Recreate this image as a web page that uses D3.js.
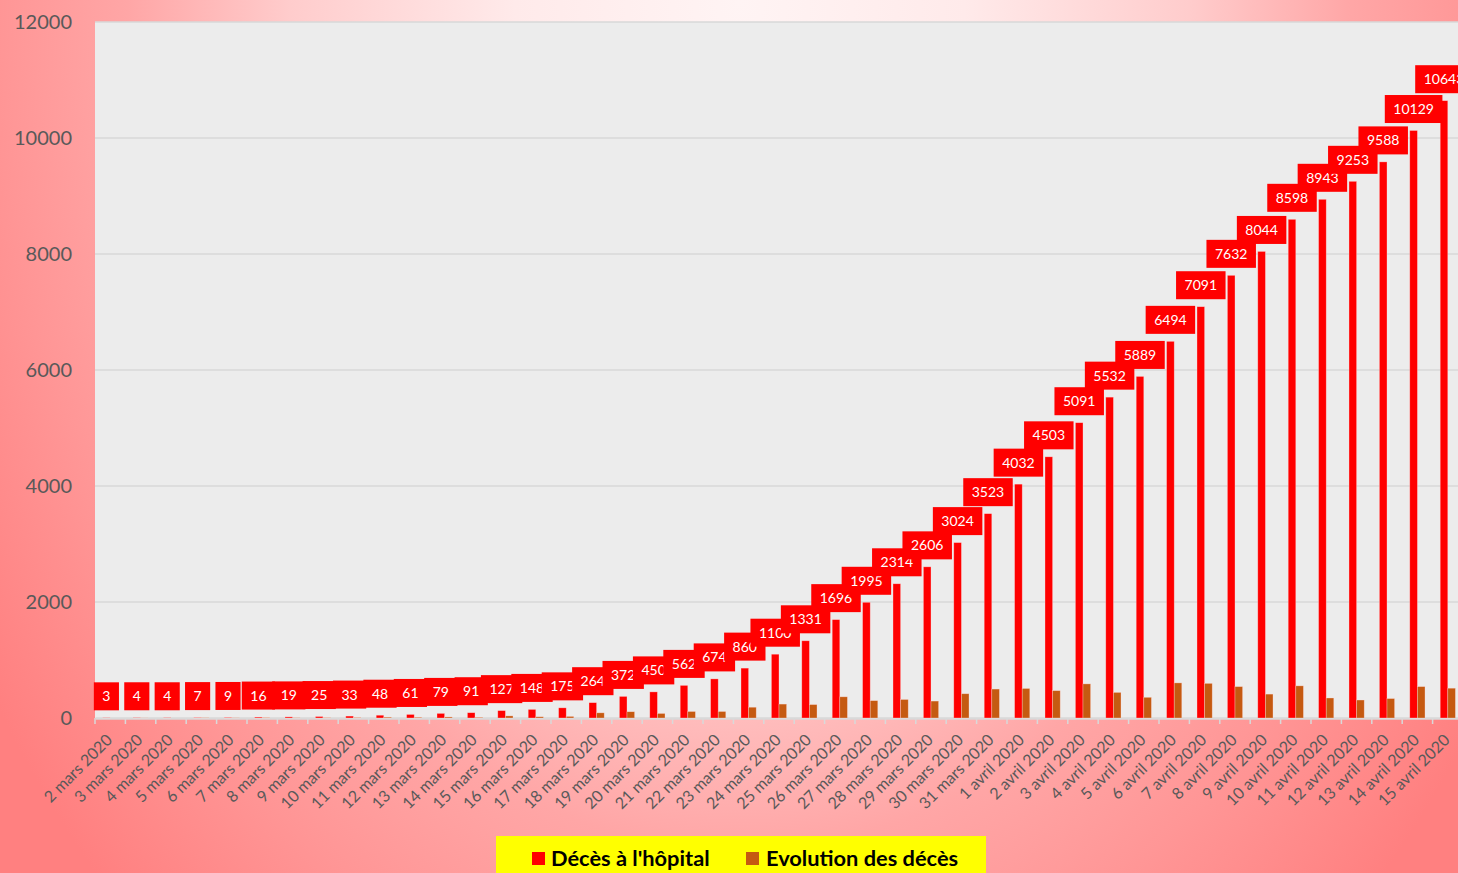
<!DOCTYPE html>
<html><head><meta charset="utf-8">
<script src="https://cdn.jsdelivr.net/npm/d3@7/dist/d3.min.js"></script>
<style>html,body{margin:0;padding:0;overflow:hidden;background:#fff;} svg{display:block;}</style>
</head><body>
<svg id="c" width="1458" height="873"></svg>
<script>
const categories = [
  "2 mars 2020","3 mars 2020","4 mars 2020","5 mars 2020","6 mars 2020","7 mars 2020","8 mars 2020",
  "9 mars 2020","10 mars 2020","11 mars 2020","12 mars 2020","13 mars 2020","14 mars 2020","15 mars 2020",
  "16 mars 2020","17 mars 2020","18 mars 2020","19 mars 2020","20 mars 2020","21 mars 2020","22 mars 2020",
  "23 mars 2020","24 mars 2020","25 mars 2020","26 mars 2020","27 mars 2020","28 mars 2020","29 mars 2020",
  "30 mars 2020","31 mars 2020","1 avril 2020","2 avril 2020","3 avril 2020","4 avril 2020","5 avril 2020",
  "6 avril 2020","7 avril 2020","8 avril 2020","9 avril 2020","10 avril 2020","11 avril 2020","12 avril 2020",
  "13 avril 2020","14 avril 2020","15 avril 2020"
];
const decesHopital = [
  3,4,4,7,9,16,19,25,33,48,61,79,91,127,148,175,264,372,450,562,674,860,1100,1331,1696,
  1995,2314,2606,3024,3523,4032,4503,5091,5532,5889,6494,7091,7632,8044,8598,8943,9253,9588,10129,10643
];
const evolutionDeces = [
  0,1,0,3,2,7,3,6,8,15,13,18,12,36,21,27,89,108,78,112,112,186,240,231,365,
  299,319,292,418,499,509,471,588,441,357,605,597,541,412,554,345,310,335,541,514
];
const yTicks = [0,2000,4000,6000,8000,10000,12000];
const seriesNames = ["Décès à l'hôpital","Evolution des décès"];
const seriesColors = ["#ff0000","#c55a11"];

const W = 1458, H = 873;
const plot = {left: 95, right: 1463, top: 22, bottom: 718};
const FONT = "Lato, 'Open Sans', 'Noto Sans', sans-serif";

const svg = d3.select("#c");
const defs = svg.append("defs");
const grad = defs.append("radialGradient").attr("id","bg")
  .attr("gradientUnits","userSpaceOnUse")
  .attr("cx",740).attr("cy",0).attr("r",900).attr("fx",740).attr("fy",0)
  .attr("gradientTransform","translate(740,0) scale(1,1.39) translate(-740,0)");
[[0,"#fff4f4"],[0.25,"#ffeaea"],[0.5,"#ffcccc"],[0.68,"#ffa6a6"],[0.82,"#ff9696"],[1.08,"#ff8080"]]
  .forEach(([o,c]) => grad.append("stop").attr("offset",o).attr("stop-color",c));

svg.append("rect").attr("width",W).attr("height",H).attr("fill","url(#bg)");

const x = d3.scaleBand().domain(categories).range([plot.left, plot.right])
  .paddingInner(0.5).paddingOuter(0.25);
const xs = d3.scaleBand().domain([0,1]).range([0, x.bandwidth()]);
const y = d3.scaleLinear().domain([0,12000]).range([plot.bottom, plot.top]);
const step = x.step();

// plot background
svg.append("rect").attr("x",plot.left).attr("y",plot.top)
  .attr("width",plot.right-plot.left).attr("height",plot.bottom-plot.top).attr("fill","#ececec");

// gridlines
svg.append("g").selectAll("line").data(yTicks.filter(d=>d>0)).join("line")
  .attr("x1",plot.left).attr("x2",plot.right)
  .attr("y1",d=>y(d)).attr("y2",d=>y(d))
  .attr("stroke","#d9d9d9").attr("stroke-width",1.5);

// y labels
svg.append("g").selectAll("text").data(yTicks).join("text")
  .attr("x",72).attr("y",d=>y(d)).attr("dy","0.36em")
  .attr("text-anchor","end").attr("font-family",FONT).attr("font-size",20)
  .attr("fill","#595959").text(d=>d);

// x axis
const xAxis = d3.axisBottom(x).tickSize(0).tickFormat("");
const gx = svg.append("g").attr("transform",`translate(0,${plot.bottom})`).call(xAxis);
gx.select(".domain").attr("stroke","#d9d9d9").attr("stroke-width",2.5);
gx.selectAll(".tick").remove();
const boundaries = categories.map(c => x(c) - step*0.25);
gx.selectAll("line.b").data(boundaries).join("line").attr("class","b")
  .attr("x1",d=>d).attr("x2",d=>d).attr("y1",0).attr("y2",6)
  .attr("stroke","#d9d9d9").attr("stroke-width",1.5);

svg.append("g").selectAll("text").data(categories).join("text")
  .attr("transform",d=>`translate(${x(d)+x.bandwidth()/2+3},741) rotate(-45)`)
  .attr("text-anchor","end").attr("font-family",FONT).attr("font-size",16)
  .attr("fill","#595959").text(d=>d);

// bars
const series = [decesHopital, evolutionDeces];
series.forEach((vals, si) => {
  svg.append("g").selectAll("rect").data(vals).join("rect")
    .attr("x",(d,i)=>x(categories[i]) + xs(si))
    .attr("width",xs.bandwidth())
    .attr("y",d=>y(d)).attr("height",d=>plot.bottom - y(d))
    .attr("fill",seriesColors[si])
    .attr("stroke","rgba(255,220,220,0.55)").attr("stroke-width",0.6);
});

// data labels
const lg = svg.append("g");
decesHopital.forEach((v,i) => {
  const cx = x(categories[i]) + xs(0) + xs.bandwidth()/2;
  const by = y(v) - 7.5;
  const g = lg.append("g");
  const t = g.append("text").attr("x",cx).attr("y",by-14).attr("dy","0.36em")
    .attr("text-anchor","middle").attr("font-family",FONT).attr("font-size",14)
    .attr("fill","#ffffff").text(v);
  const w = t.node().getComputedTextLength() + 17;
  g.insert("rect","text").attr("x",cx - w/2).attr("y",by-28).attr("width",w).attr("height",28)
    .attr("fill","#ff0000");
});

// legend
const leg = svg.append("g");
leg.append("rect").attr("x",496).attr("y",836).attr("width",490).attr("height",45).attr("fill","#ffff00");
const legItems = [{x:532, tx:551},{x:746, tx:766}];
seriesNames.forEach((n,i) => {
  leg.append("rect").attr("x",legItems[i].x).attr("y",852).attr("width",13).attr("height",13)
    .attr("fill",seriesColors[i]);
  leg.append("text").attr("x",legItems[i].tx).attr("y",866)
    .attr("font-family",FONT).attr("font-weight","bold").attr("font-size",21.8)
    .attr("fill","#000").text(n);
});
</script>
</body></html>
